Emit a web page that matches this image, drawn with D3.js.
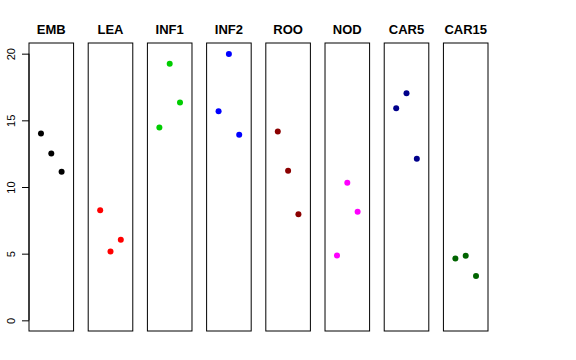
<!DOCTYPE html>
<html><head><meta charset="utf-8">
<script src="https://cdn.jsdelivr.net/npm/d3@7"></script>
<style>body{margin:0;background:#fff}</style>
</head><body>
<svg id="c" width="576" height="360"></svg>
<script>
const categories = ["EMB","LEA","INF1","INF2","ROO","NOD","CAR5","CAR15"];
const colors = ["#000000","#FF0000","#00CD00","#0000FF","#8B0000","#FF00FF","#00008B","#006400"];
const values = [
  [14.02, 12.52, 11.15],
  [8.26, 5.16, 6.04],
  [14.47, 19.25, 16.34],
  [15.69, 19.97, 13.91],
  [14.17, 11.22, 7.96],
  [4.86, 10.32, 8.15],
  [15.91, 17.03, 12.12],
  [4.64, 4.84, 3.32]
];
const yTicks = [0,5,10,15,20];

const svg = d3.select("#c");
const band = d3.scaleBand().domain(categories).range([29, 488]).paddingInner(0.247).paddingOuter(0);
const y = d3.scaleLinear().domain([-0.8, 20.8]).range([331, 43]);
const x = d3.scaleLinear().domain([-0.16, 4.16]).range([0, band.bandwidth()]);

categories.forEach((cat, i) => {
  const g = svg.append("g").attr("transform", `translate(${band(cat)},0)`);
  g.append("rect").attr("x", 0).attr("y", y(20.8)).attr("width", band.bandwidth()).attr("height", y(-0.8) - y(20.8))
    .attr("fill", "none").attr("stroke", "#000").attr("stroke-width", 1);
  g.selectAll("circle").data(values[i]).enter().append("circle")
    .attr("cx", (d, j) => x(j + 1)).attr("cy", d => y(d)).attr("r", 3).attr("fill", colors[i]);
  g.append("text").attr("x", band.bandwidth() / 2).attr("y", 34).attr("text-anchor", "middle")
    .attr("font-family", "Liberation Sans, Arial, sans-serif").attr("font-weight", "bold").attr("font-size", 13)
    .text(cat);
});

const axis = d3.axisLeft(y).tickValues(yTicks).tickSize(7).tickFormat("");
const ag = svg.append("g").attr("transform", `translate(${band(categories[0])},0)`).call(axis);
ag.select(".domain").attr("d", `M0,${y(0)}V${y(20)}`);
ag.selectAll(".tick text").remove();
ag.selectAll(".tick").append("text")
  .attr("transform", "translate(-14,0) rotate(-90)")
  .attr("text-anchor", "middle")
  .attr("font-family", "Liberation Sans, Arial, sans-serif").attr("font-size", 11)
  .attr("fill", "#000")
  .text(d => d);
</script>
</body></html>
